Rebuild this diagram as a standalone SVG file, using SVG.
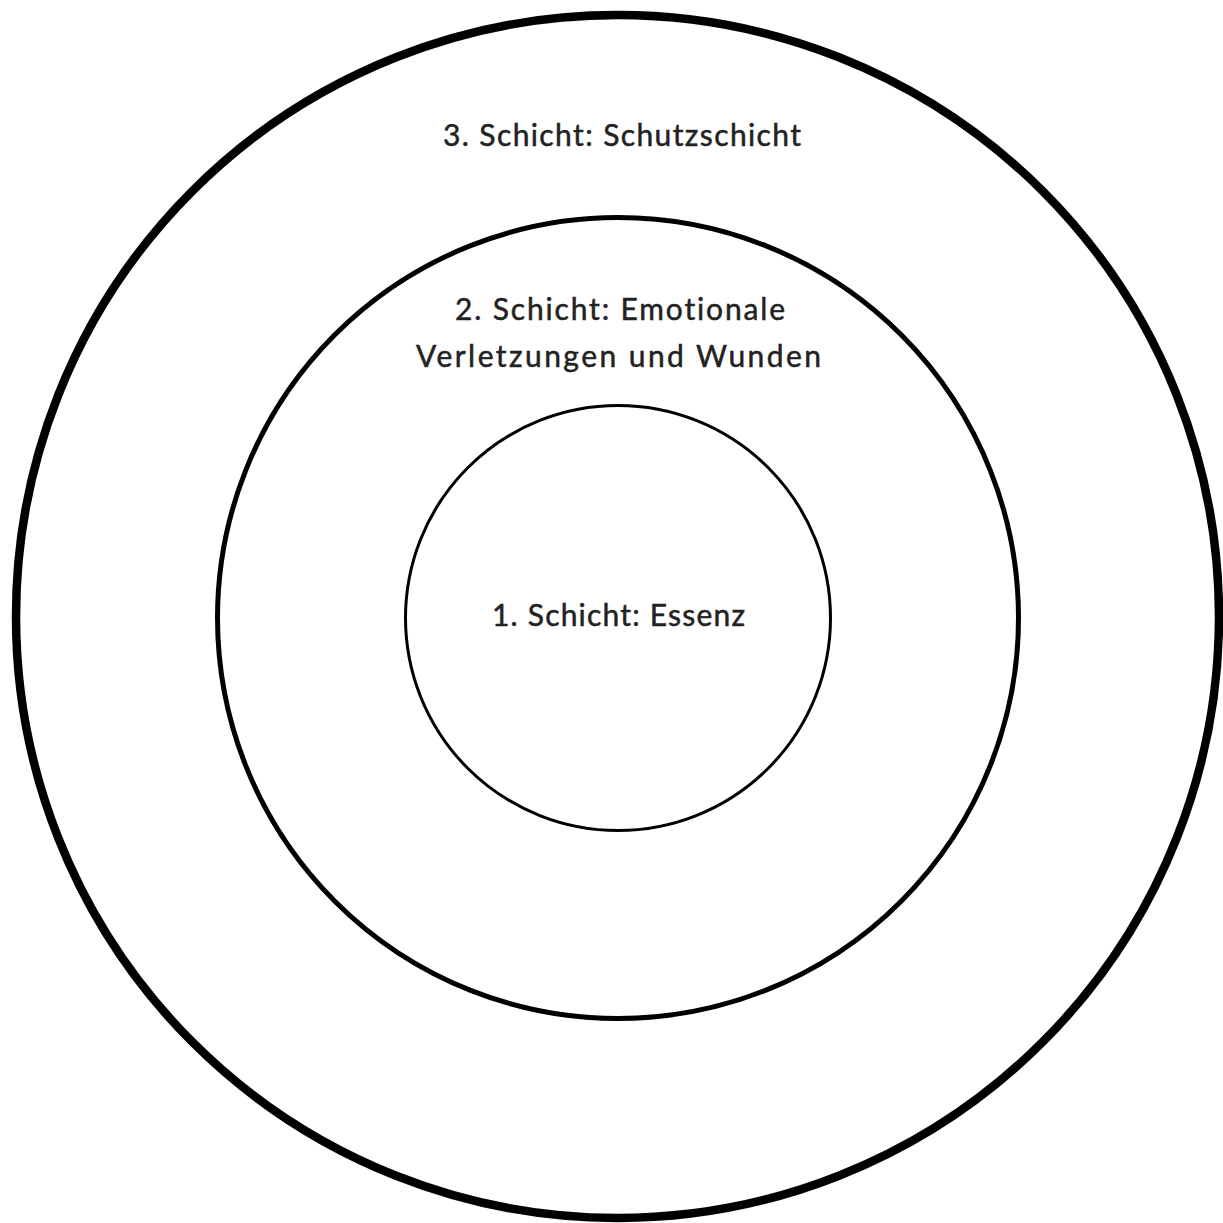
<svg xmlns="http://www.w3.org/2000/svg" width="1223" height="1223" viewBox="0 0 1223 1223">
<style>
.ring{fill:none;stroke:#000}
.lbl{font-family:Lato,"Noto Sans",sans-serif;font-size:30px;fill:#222;stroke:#222;stroke-width:0.5px;text-anchor:middle;font-variant-ligatures:none;font-feature-settings:"liga" 0,"dlig" 0}
</style>
<rect width="1223" height="1223" fill="#fff"/>
<g id="layer3">
<circle class="ring" cx="617.5" cy="616.5" r="601.5" stroke-width="8.5"/>
<text class="lbl" x="622" y="146" textLength="358" lengthAdjust="spacing">3. Schicht: Schutzschicht</text>
</g>
<g id="layer2">
<circle class="ring" cx="618" cy="618" r="400.5" stroke-width="5"/>
<text class="lbl" x="620" y="320" textLength="330" lengthAdjust="spacing">2. Schicht: Emotionale</text>
<text class="lbl" x="618.5" y="367" textLength="405" lengthAdjust="spacing">Verletzungen und Wunden</text>
</g>
<g id="layer1">
<circle class="ring" cx="618" cy="618" r="212.5" stroke-width="3"/>
<text class="lbl" x="618.5" y="626" textLength="253" lengthAdjust="spacing">1. Schicht: Essenz</text>
</g>
</svg>
